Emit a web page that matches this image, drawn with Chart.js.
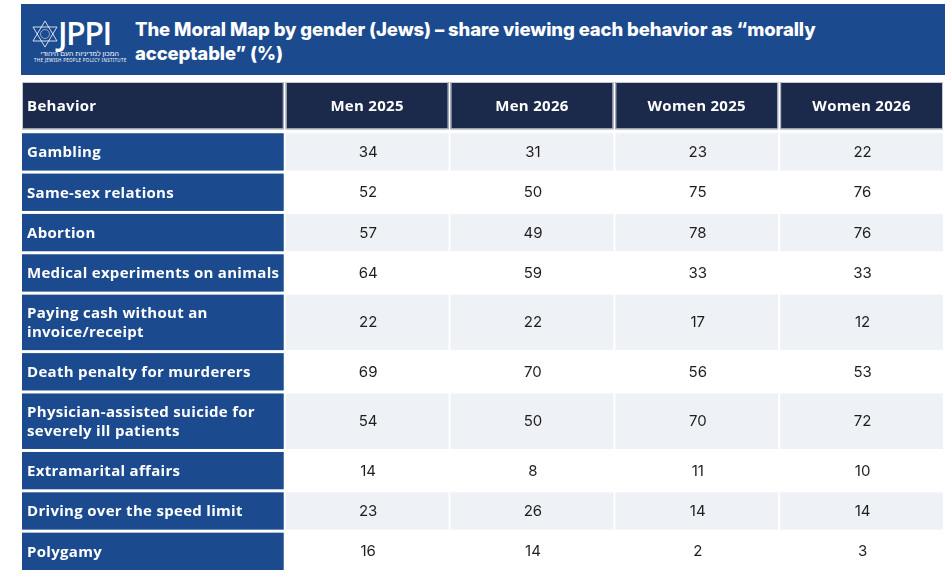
<!DOCTYPE html>
<html>
<head>
<meta charset="utf-8">
<script src="https://cdn.jsdelivr.net/npm/chart.js@4.4.1/dist/chart.umd.min.js"></script>
<style>
  html, body { margin: 0; padding: 0; background: #fff; }
  #wrap { position: relative; width: 952px; height: 586px; overflow: hidden; }
  #table { position: absolute; left: 0; top: 0; }
  #band {
    position: absolute; left: 21px; top: 4px; width: 924px; height: 71px;
    background: #1b4a8e; color: #fff;
  }
  #logo { position: absolute; left: 11px; top: 15px; }
  #logo .mark { position: absolute; left: 26px; top: -2px; font: 600 32px "Open Sans", sans-serif; letter-spacing: -1.5px; line-height: 32px; }
  #logo .he { position: absolute; left: 2px; top: 30px; width: 85px; font: 400 7px "Noto Sans", sans-serif; direction: rtl; white-space: nowrap; }
  #logo .en { position: absolute; left: 2px; top: 38px; font: 400 4.5px "Noto Sans", sans-serif; white-space: nowrap; letter-spacing: 0.3px; }
  #title {
    position: absolute; left: 114px; top: 13px;
    font: 800 18.5px "Inter", sans-serif; line-height: 24px; letter-spacing: -0.1px;
  }
</style>
</head>
<body>
<div id="wrap">
  <canvas id="table"></canvas>
  <div id="band">
    <div id="logo">
      <svg width="26" height="28" viewBox="0 0 26 28" style="position:absolute;left:0;top:1px">
        <polygon points="13,1 25,21 1,21" fill="none" stroke="#fff" stroke-width="0.8"/>
        <polygon points="13,27 25,7 1,7" fill="none" stroke="#fff" stroke-width="0.8"/>
        <circle cx="13" cy="14" r="4.5" fill="none" stroke="#fff" stroke-width="0.5"/>
      </svg>
      <div class="mark">JPPI</div>
      <div class="he">המכון למדיניות העם היהודי</div>
      <div class="en">THE JEWISH PEOPLE POLICY INSTITUTE</div>
    </div>
    <div id="title">The Moral Map by gender (Jews) – share viewing each behavior as “morally<br>acceptable” (%)</div>
  </div>
</div>
<script>
const columns = ['Behavior', 'Men 2025', 'Men 2026', 'Women 2025', 'Women 2026'];
const behaviors = [
  ['Gambling'],
  ['Same-sex relations'],
  ['Abortion'],
  ['Medical experiments on animals'],
  ['Paying cash without an', 'invoice/receipt'],
  ['Death penalty for murderers'],
  ['Physician-assisted suicide for', 'severely ill patients'],
  ['Extramarital affairs'],
  ['Driving over the speed limit'],
  ['Polygamy']
];
const men2025 = [34, 52, 57, 64, 22, 69, 54, 14, 23, 16];
const men2026 = [31, 50, 49, 59, 22, 70, 50, 8, 26, 14];
const women2025 = [23, 75, 78, 33, 17, 56, 70, 11, 14, 2];
const women2026 = [22, 76, 76, 33, 12, 53, 72, 10, 14, 3];
const series = [men2025, men2026, women2025, women2026];

// column widths and row heights in scale units
const colWeights = [1.6, 1, 1, 1, 1];
const headerUnits = 1.27;
const rowUnits = behaviors.map(lines => lines.length > 1 ? 1.45 : 1);

const colEdges = [0];
colWeights.forEach(w => colEdges.push(colEdges[colEdges.length - 1] + w));
const rowEdges = [0, headerUnits];
rowUnits.forEach(u => rowEdges.push(rowEdges[rowEdges.length - 1] + u));

const labelFont = '700 15px "Open Sans", sans-serif';
const numFont = '400 15px Inter, sans-serif';

const datasets = series.map((values, c) => ({
  label: columns[c + 1],
  data: values.map((v, r) => ({
    x: (colEdges[c + 1] + colEdges[c + 2]) / 2,
    y: (rowEdges[r + 1] + rowEdges[r + 2]) / 2,
    v: v
  })),
  pointRadius: 0,
  pointHoverRadius: 0
}));

const tablePlugin = {
  id: 'tableCells',
  beforeDatasetsDraw(chart) {
    const ctx = chart.ctx;
    const xs = chart.scales.x, ys = chart.scales.y;
    const colGap = 2, rowGap = 3;
    const X = v => xs.getPixelForValue(v);
    const Y = v => ys.getPixelForValue(v);
    ctx.save();
    ctx.letterSpacing = '0.3px';

    // header row
    for (let c = 0; c < columns.length; c++) {
      const x0 = X(colEdges[c]), x1 = X(colEdges[c + 1]) - colGap;
      const y0 = Y(rowEdges[0]), y1 = Y(rowEdges[1]) - 4;
      ctx.fillStyle = '#1b2a4a';
      ctx.fillRect(x0, y0, x1 - x0, y1 - y0);
      ctx.strokeStyle = '#c3c8d2';
      ctx.lineWidth = 1;
      ctx.strokeRect(x0 + 0.5, y0 + 0.5, x1 - x0 - 1, y1 - y0 - 1);
      ctx.fillStyle = '#ffffff';
      ctx.font = labelFont;
      ctx.textBaseline = 'middle';
      if (c === 0) {
        ctx.textAlign = 'left';
        ctx.fillText(columns[c], x0 + 5, (y0 + y1) / 2 + 1);
      } else {
        ctx.textAlign = 'center';
        ctx.fillText(columns[c], (x0 + x1) / 2, (y0 + y1) / 2 + 1);
      }
    }

    // body rows
    behaviors.forEach((lines, r) => {
      const y0 = Y(rowEdges[r + 1]), y1 = Y(rowEdges[r + 2]) - rowGap;
      for (let c = 0; c < columns.length; c++) {
        const x0 = X(colEdges[c]), x1 = X(colEdges[c + 1]) - colGap;
        if (c === 0) ctx.fillStyle = '#1b4a8e';
        else ctx.fillStyle = r % 2 === 0 ? '#eef1f6' : '#ffffff';
        ctx.fillRect(x0, y0, x1 - x0, y1 - y0);
      }
      const x0 = X(colEdges[0]);
      const mid = (y0 + y1) / 2;
      const lh = 19.5;
      ctx.fillStyle = '#ffffff';
      ctx.font = labelFont;
      ctx.textAlign = 'left';
      ctx.textBaseline = 'middle';
      lines.forEach((line, i) => {
        ctx.fillText(line, x0 + 5, mid + 1 + (i - (lines.length - 1) / 2) * lh);
      });
    });
    ctx.restore();
  },
  afterDatasetsDraw(chart) {
    const ctx = chart.ctx;
    ctx.save();
    ctx.fillStyle = '#1e1e1e';
    ctx.font = numFont;
    ctx.textAlign = 'center';
    ctx.textBaseline = 'middle';
    chart.data.datasets.forEach((ds, i) => {
      chart.getDatasetMeta(i).data.forEach((pt, j) => {
        ctx.fillText(String(ds.data[j].v), pt.x, pt.y - 1);
      });
    });
    ctx.restore();
  }
};

new Chart(document.getElementById('table'), {
  type: 'scatter',
  data: { datasets: datasets },
  options: {
    responsive: true,
    maintainAspectRatio: false,
    animation: false,
    events: [],
    layout: { padding: { left: 22, right: 7, top: 82, bottom: 13 } },
    plugins: { legend: { display: false }, tooltip: { enabled: false } },
    scales: {
      x: { type: 'linear', display: false, min: 0, max: colEdges[colEdges.length - 1] },
      y: { type: 'linear', display: false, reverse: true, min: 0, max: rowEdges[rowEdges.length - 1] }
    }
  },
  plugins: [tablePlugin]
});
</script>
<style>#table { width: 952px !important; height: 586px !important; }</style>
</body>
</html>
